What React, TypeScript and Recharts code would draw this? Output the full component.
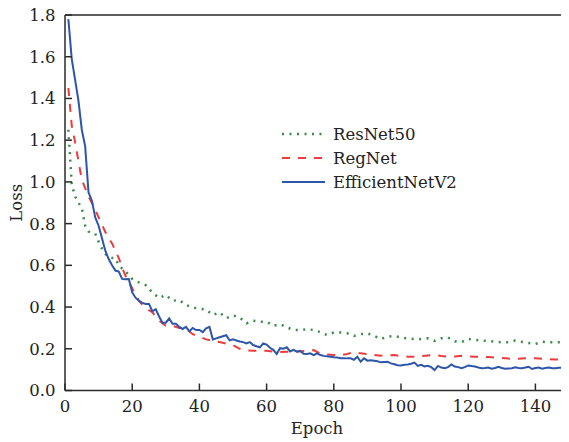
import React from 'react';
import { LineChart, Line, XAxis, YAxis, ReferenceLine, Legend } from 'recharts';

// EfficientNetV2, one value per epoch (1..150)
const efficientNetLoss = [
  1.78, 1.59, 1.49, 1.39, 1.25, 1.17, 0.95, 0.91, 0.83, 0.79,
  0.73, 0.67, 0.63, 0.6, 0.575, 0.57, 0.535, 0.533, 0.534, 0.47,
  0.445, 0.43, 0.42, 0.415, 0.415, 0.38, 0.39, 0.355, 0.325, 0.325,
  0.345, 0.32, 0.32, 0.305, 0.295, 0.305, 0.283, 0.3, 0.29, 0.29,
  0.28, 0.298, 0.305, 0.245, 0.25, 0.255, 0.26, 0.265, 0.24, 0.245,
  0.24, 0.235, 0.232, 0.226, 0.232, 0.218, 0.212, 0.207, 0.226, 0.22,
  0.205, 0.195, 0.175, 0.203, 0.2, 0.207, 0.187, 0.195, 0.186, 0.19,
  0.176, 0.175, 0.178, 0.17, 0.178, 0.17, 0.166, 0.164, 0.162, 0.159,
  0.158, 0.155, 0.155, 0.154, 0.154, 0.147, 0.162, 0.138, 0.154, 0.143,
  0.145, 0.143, 0.14, 0.135, 0.137, 0.138, 0.13, 0.126, 0.121, 0.12,
  0.123, 0.125, 0.128, 0.134, 0.118, 0.123, 0.115, 0.118, 0.112, 0.098,
  0.118, 0.11, 0.107, 0.112, 0.125, 0.115, 0.112, 0.107, 0.112, 0.12,
  0.117, 0.115, 0.11, 0.107, 0.108, 0.11, 0.104, 0.108, 0.114, 0.108,
  0.104, 0.106, 0.107, 0.111, 0.108, 0.107, 0.11, 0.114, 0.103, 0.108,
  0.11, 0.104, 0.108, 0.11, 0.107, 0.107, 0.109, 0.11, 0.102, 0.1,
];

// ResNet50 and RegNet are read at a coarser epoch grid
const coarseEpochs = [
  1, 2, 3, 4, 5, 6, 7, 8, 9, 10, 11, 12, 13, 14, 15, 16, 17, 18, 19, 20,
  22, 24, 26, 28, 30, 32, 34, 36, 38, 40, 42, 44, 46, 48, 50, 52, 54, 56, 58, 60,
  62, 64, 66, 68, 70, 72, 74, 76, 78, 80, 82, 84, 86, 88, 90, 92, 94, 96, 98, 100,
  102, 104, 106, 108, 110, 112, 114, 116, 118, 120, 122, 124, 126, 128, 130, 132, 134, 136, 138, 140,
  142, 144, 146, 148, 150,
];

const regNetLoss = [
  1.45, 1.27, 1.19, 1.1, 1.01, 0.97, 0.93, 0.9, 0.867, 0.83, 0.795, 0.76, 0.73, 0.705, 0.67, 0.635, 0.59, 0.55, 0.52, 0.49,
  0.43, 0.395, 0.375, 0.335, 0.31, 0.31, 0.3, 0.3, 0.27, 0.258, 0.245, 0.238, 0.232, 0.225, 0.218, 0.2, 0.192, 0.19, 0.192, 0.19,
  0.186, 0.185, 0.186, 0.186, 0.187, 0.19, 0.194, 0.176, 0.172, 0.17, 0.17, 0.175, 0.185, 0.178, 0.175, 0.17, 0.167, 0.168, 0.17, 0.165,
  0.162, 0.162, 0.165, 0.168, 0.17, 0.165, 0.162, 0.163, 0.166, 0.164, 0.162, 0.162, 0.16, 0.158, 0.156, 0.153, 0.151, 0.153, 0.155, 0.154,
  0.152, 0.15, 0.149, 0.148, 0.146,
];

const resNetLoss = [
  1.25, 0.99, 0.93, 0.9, 0.875, 0.79, 0.762, 0.755, 0.752, 0.713, 0.68, 0.655, 0.64, 0.636, 0.635, 0.6, 0.585, 0.572, 0.552, 0.535,
  0.518, 0.505, 0.47, 0.443, 0.458, 0.43, 0.434, 0.41, 0.398, 0.392, 0.388, 0.362, 0.375, 0.347, 0.36, 0.35, 0.322, 0.335, 0.33, 0.33,
  0.31, 0.318, 0.303, 0.29, 0.29, 0.294, 0.29, 0.28, 0.266, 0.278, 0.278, 0.274, 0.262, 0.27, 0.274, 0.262, 0.247, 0.258, 0.262, 0.254,
  0.25, 0.247, 0.246, 0.25, 0.238, 0.25, 0.254, 0.236, 0.232, 0.247, 0.242, 0.24, 0.237, 0.234, 0.231, 0.231, 0.239, 0.233, 0.228, 0.223,
  0.234, 0.231, 0.231, 0.231, 0.228,
];

const xTicks = [0, 20, 40, 60, 80, 100, 120, 140];
const yTicks = [0, 0.2, 0.4, 0.6, 0.8, 1.0, 1.2, 1.4, 1.6, 1.8];

const FONT = '"DejaVu Serif", serif';
const AXIS = '#2a2a2a';

const series = [
  { name: 'ResNet50', color: '#3b8a4b', dash: '2 5.5', width: 2.5 },
  { name: 'RegNet', color: '#ee3b3b', dash: '8 8', width: 2 },
  { name: 'EfficientNetV2', color: '#2d55aa', dash: undefined, width: 2 },
];

const effData = efficientNetLoss.map((v, i) => ({ epoch: i + 1, loss: v }));
const regData = coarseEpochs.map((e, i) => ({ epoch: e, loss: regNetLoss[i] }));
const resData = coarseEpochs.map((e, i) => ({ epoch: e, loss: resNetLoss[i] }));

const YTick = (props: any) => {
  const { x, y, payload } = props;
  return (
    <g>
      <line x1={x} x2={x + 7} y1={y} y2={y} stroke={AXIS} strokeWidth={1.5} />
      <text x={x - 9.5} y={y} dy="0.36em" textAnchor="end" fontFamily={FONT} fontSize={16.5} fill="#222">
        {Number(payload.value).toFixed(1)}
      </text>
    </g>
  );
};

const XTick = (props: any) => {
  const { x, y, payload } = props;
  return (
    <g>
      <line x1={x} x2={x} y1={y} y2={y - 7} stroke={AXIS} strokeWidth={1.5} />
      <text x={x} y={y + 21} textAnchor="middle" fontFamily={FONT} fontSize={16.5} fill="#222">
        {payload.value}
      </text>
    </g>
  );
};

const LegendBox = () => (
  <svg width={240} height={80}>
    {series.map((s, i) => (
      <g key={s.name}>
        <line x1={0} x2={43} y1={13 + i * 24} y2={13 + i * 24} stroke={s.color} strokeWidth={s.width} strokeDasharray={s.dash} />
        <text x={51} y={13 + i * 24} dy="0.36em" fontFamily={FONT} fontSize={16.5} fill="#222">
          {s.name}
        </text>
      </g>
    ))}
  </svg>
);

export default function App() {
  return (
    <LineChart width={561} height={434} margin={{ top: 7, right: 0, left: 0, bottom: 0 }} style={{ overflow: 'visible' }}>
      <XAxis
        type="number"
        dataKey="epoch"
        domain={[0, 150]}
        ticks={xTicks}
        interval={0}
        height={51.5}
        tickSize={0}
        tickMargin={0}
        tickLine={false}
        tick={<XTick />}
        axisLine={{ stroke: AXIS, strokeWidth: 1.5 }}
        label={{ value: 'Epoch', position: 'center', dy: 12, fontFamily: FONT, fontSize: 16.5, fill: '#222' }}
      />
      <YAxis
        type="number"
        domain={[0, 1.8]}
        ticks={yTicks}
        interval={0}
        width={57}
        tickSize={0}
        tickMargin={0}
        tickLine={false}
        tick={<YTick />}
        axisLine={{ stroke: AXIS, strokeWidth: 1.5 }}
        label={{ value: 'Loss', angle: -90, position: 'center', dx: -20, fontFamily: FONT, fontSize: 16.5, fill: '#222' }}
      />
      <ReferenceLine y={1.8} stroke={AXIS} strokeWidth={1.5} />
      <Legend
        layout="vertical"
        verticalAlign="middle"
        align="center"
        wrapperStyle={{ left: 274, top: 113, width: 240 }}
        content={() => <LegendBox />}
      />
      <Line data={resData} dataKey="loss" name="ResNet50" type="linear" stroke={series[0].color} strokeWidth={series[0].width} strokeDasharray={series[0].dash} dot={false} isAnimationActive={false} />
      <Line data={regData} dataKey="loss" name="RegNet" type="linear" stroke={series[1].color} strokeWidth={series[1].width} strokeDasharray={series[1].dash} dot={false} isAnimationActive={false} />
      <Line data={effData} dataKey="loss" name="EfficientNetV2" type="linear" stroke={series[2].color} strokeWidth={series[2].width} dot={false} isAnimationActive={false} />
    </LineChart>
  );
}
